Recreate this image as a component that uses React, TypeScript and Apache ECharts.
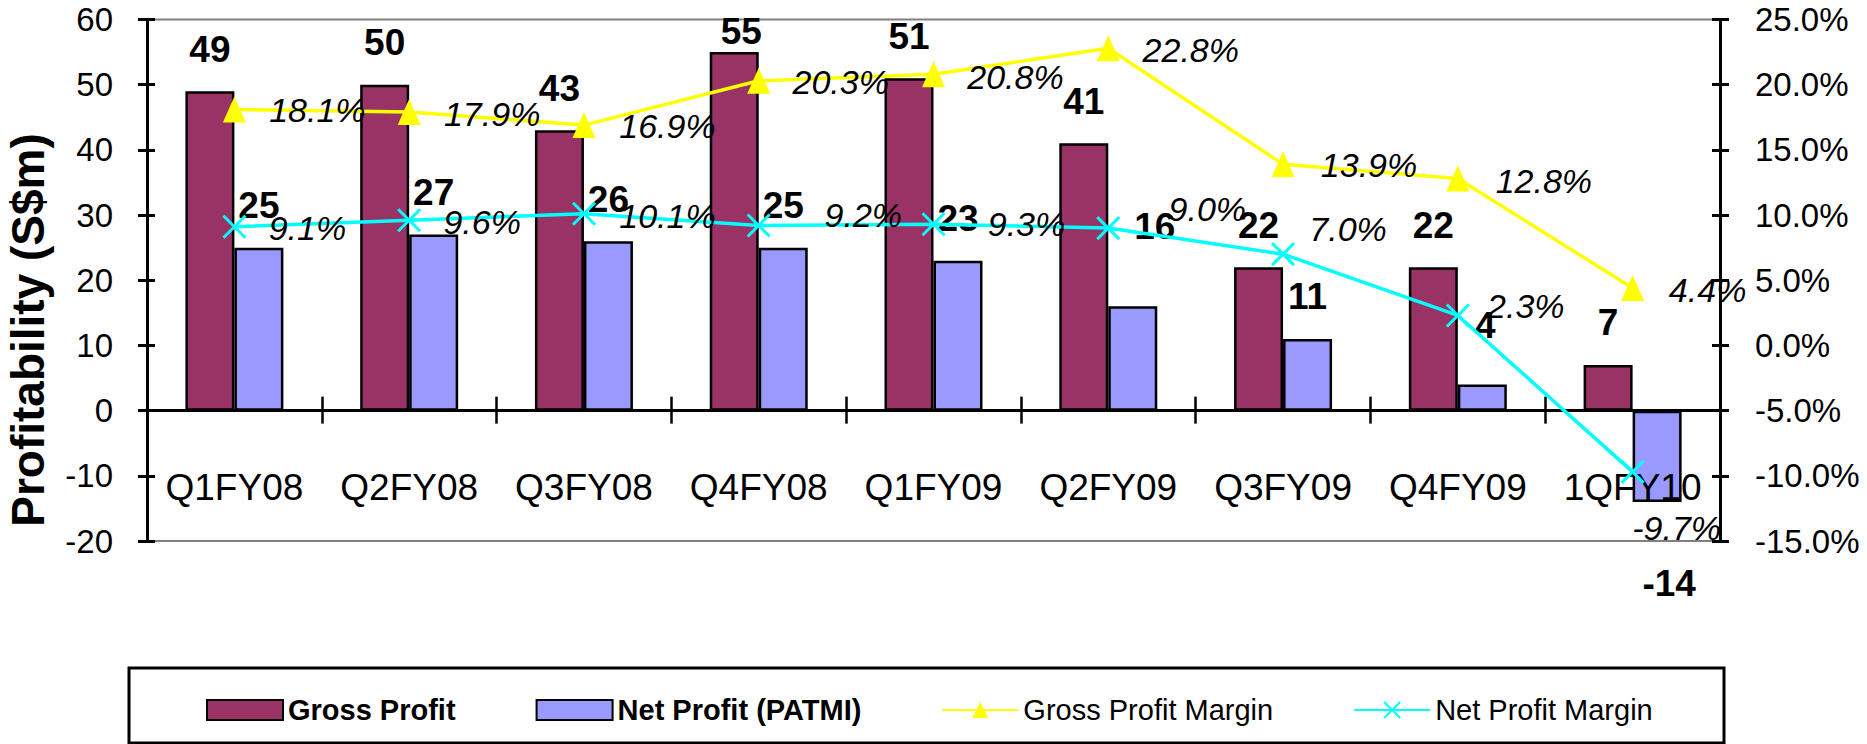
import React, { useEffect, useRef } from "react";
import * as echarts from "echarts";

const categories = ["Q1FY08", "Q2FY08", "Q3FY08", "Q4FY08", "Q1FY09", "Q2FY09", "Q3FY09", "Q4FY09", "1QFY10"];
const grossProfit = [49, 50, 43, 55, 51, 41, 22, 22, 7];
const netProfit = [25, 27, 26, 25, 23, 16, 11, 4, -14];
const grossMargin = [18.1, 17.9, 16.9, 20.3, 20.8, 22.8, 13.9, 12.8, 4.4];
const netMargin = [9.1, 9.6, 10.1, 9.2, 9.3, 9.0, 7.0, 2.3, -9.7];

// label placement tweaks (style only)
const grossLabelShift = [[0, 0], [0, 0], [0, 0], [7, 21], [0, 0], [0, 0], [0, 0], [0, 0], [0, 0]];
const netLabelShift = [[0, 0], [0, 0], [0, 0], [0, 0], [0, 0], [22, -38], [0, 0], [3, -17], [12, 40]];
const grossMarginLabelShift = [[83, 1], [83, 2], [83.5, 1], [82, 1], [82, 3], [82.5, 2], [86, 1], [86, 2], [75, 2]];
const netMarginLabelShift = [[73, 1], [73, 2], [83.5, 2], [104.6, -10], [93, 0], [99, -19], [65, -25], [68, -9.5], [44, 56]];

const SANS = "'Liberation Sans', Arial, sans-serif";

export default function App() {
  const ref = useRef<HTMLDivElement>(null);
  useEffect(() => {
    if (!ref.current) return;
    const chart = echarts.init(ref.current, undefined, { renderer: "svg" });
    const barLabelBase = {
      show: true,
      position: "top",
      distance: 42,
      verticalAlign: "middle",
      fontFamily: SANS,
      fontWeight: "bold",
      fontSize: 37,
      color: "#000",
    };
    const pctLabelBase = {
      show: true,
      position: "inside",
      align: "center",
      verticalAlign: "middle",
      fontFamily: SANS,
      fontStyle: "italic",
      fontSize: 34,
      color: "#000",
      formatter: (p: any) => Number(p.value).toFixed(1) + "%",
    };
    const option: any = {
      animation: false,
      backgroundColor: "#fff",
      grid: {
        left: 147,
        right: 147,
        top: 19.5,
        bottom: 203,
        show: true,
        borderColor: "#808080",
        borderWidth: 2,
        backgroundColor: "transparent",
      },
      xAxis: [
        {
          type: "category",
          data: categories,
          position: "bottom",
          z: 3,
          axisLine: { show: true, onZero: true, onZeroAxisIndex: 0, lineStyle: { color: "#000", width: 3 } },
          axisTick: { show: true, length: 13, lineStyle: { color: "#000", width: 2.5 } },
          axisLabel: {
            show: true,
            interval: 0,
            margin: -54,
            verticalAlign: "middle",
            fontFamily: SANS,
            fontSize: 37,
            color: "#000",
          },
          splitLine: { show: false },
        },
        {
          type: "category",
          data: categories,
          position: "bottom",
          z: 3,
          axisLine: { show: true, onZero: true, onZeroAxisIndex: 0, lineStyle: { color: "#000", width: 3 } },
          axisTick: { show: true, inside: true, length: 14, lineStyle: { color: "#000", width: 2.5 } },
          axisLabel: { show: false },
          splitLine: { show: false },
        },
      ],
      yAxis: [
        {
          type: "value",
          position: "left",
          min: -20,
          max: 60,
          interval: 10,
          axisLine: { show: true, lineStyle: { color: "#000", width: 3 } },
          axisTick: { show: true, length: 9, lineStyle: { color: "#000", width: 3 } },
          axisLabel: { margin: 34, fontFamily: SANS, fontSize: 33, color: "#000" },
          splitLine: { show: false },
        },
        {
          type: "value",
          position: "right",
          min: -15,
          max: 25,
          interval: 5,
          axisLine: { show: true, lineStyle: { color: "#000", width: 3 } },
          axisTick: { show: true, length: 9, lineStyle: { color: "#000", width: 3 } },
          axisLabel: {
            margin: 35,
            fontFamily: SANS,
            fontSize: 33,
            color: "#000",
            formatter: (v: number) => v.toFixed(1) + "%",
          },
          splitLine: { show: false },
        },
        {
          type: "value",
          position: "left",
          min: -20,
          max: 60,
          interval: 10,
          axisLine: { show: false },
          axisTick: { show: true, inside: true, length: 8, lineStyle: { color: "#000", width: 3 } },
          axisLabel: { show: false },
          splitLine: { show: false },
        },
        {
          type: "value",
          position: "right",
          min: -15,
          max: 25,
          interval: 5,
          axisLine: { show: false },
          axisTick: { show: true, inside: true, length: 8, lineStyle: { color: "#000", width: 3 } },
          axisLabel: { show: false },
          splitLine: { show: false },
        },
      ],
      legend: {
        left: 206,
        top: 695,
        padding: 0,
        itemGap: 80,
        itemWidth: 76,
        itemHeight: 20,
        textStyle: { fontFamily: SANS, fontSize: 29, color: "#000", lineHeight: 30 },
        data: [
          { name: "Gross Profit", icon: "rect", textStyle: { fontWeight: "bold" } },
          { name: "Net Profit (PATMI)", icon: "rect", textStyle: { fontWeight: "bold" } },
          { name: "Gross Profit Margin" },
          { name: "Net Profit Margin" },
        ],
      },
      graphic: [
        {
          type: "rect",
          shape: { x: 129, y: 668, width: 1595, height: 75 },
          style: { fill: "none", stroke: "#000", lineWidth: 3 },
          z: 100,
          silent: true,
        },
        {
          type: "text",
          x: 28,
          y: 330,
          rotation: Math.PI / 2,
          style: {
            text: "Profitability (S$m)",
            fontFamily: SANS,
            fontWeight: "bold",
            fontSize: 46,
            fill: "#000",
            align: "center",
            verticalAlign: "middle",
          },
        },
      ],
      series: [
        {
          name: "Gross Profit",
          type: "bar",
          xAxisIndex: 0,
          yAxisIndex: 0,
          barWidth: 49,
          barGap: "0%",
          itemStyle: { color: "#993366", borderColor: "#000", borderWidth: 2.5 },
          label: barLabelBase,
          z: 2,
          data: grossProfit.map((v, i) => ({ value: v, label: { offset: grossLabelShift[i] } })),
        },
        {
          name: "Net Profit (PATMI)",
          type: "bar",
          xAxisIndex: 0,
          yAxisIndex: 0,
          barWidth: 49,
          barGap: "0%",
          itemStyle: { color: "#9999FF", borderColor: "#000", borderWidth: 2.5 },
          label: barLabelBase,
          z: 2,
          data: netProfit.map((v, i) => ({
            value: v,
            label: { offset: netLabelShift[i], position: v < 0 ? "bottom" : "top" },
          })),
        },
        {
          name: "Gross Profit Margin",
          type: "line",
          xAxisIndex: 0,
          yAxisIndex: 1,
          z: 4,
          symbol: "triangle",
          symbolSize: [23, 26],
          lineStyle: { color: "#FFFF00", width: 3.5 },
          itemStyle: { color: "#FFFF00" },
          label: pctLabelBase,
          data: grossMargin.map((v, i) => ({ value: v, label: { offset: grossMarginLabelShift[i] } })),
        },
        {
          name: "Net Profit Margin",
          type: "line",
          xAxisIndex: 0,
          yAxisIndex: 1,
          z: 4,
          symbol: "path://M0 0L20 20M20 0L0 20",
          symbolSize: 22,
          lineStyle: { color: "#00FFFF", width: 3.5 },
          itemStyle: { color: "#00FFFF", borderColor: "#00FFFF", borderWidth: 3 },
          label: pctLabelBase,
          data: netMargin.map((v, i) => ({ value: v, label: { offset: netMarginLabelShift[i] } })),
        },
      ],
    };
    chart.setOption(option);
    return () => chart.dispose();
  }, []);
  return (
    <div
      ref={ref}
      style={{ position: "absolute", left: 0, top: 0, width: 1867, height: 744, background: "#fff" }}
    />
  );
}
